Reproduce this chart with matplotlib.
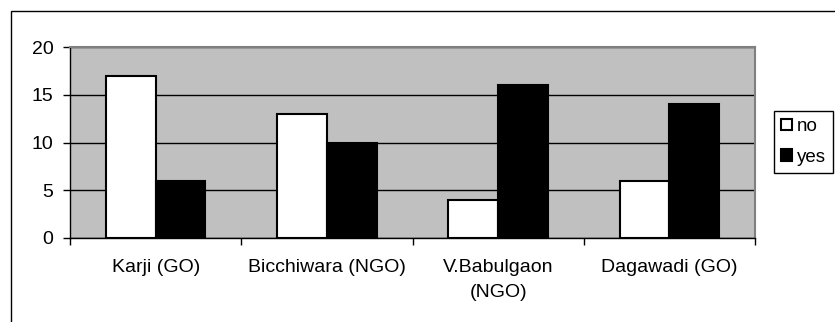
import matplotlib
matplotlib.use("Agg")
import matplotlib.pyplot as plt
import numpy as np
from matplotlib.patches import Rectangle, Patch

plt.rcParams['font.family'] = ['Liberation Sans', 'DejaVu Sans']

categories = ["Karji (GO)", "Bicchiwara (NGO)", "V.Babulgaon\n(NGO)", "Dagawadi (GO)"]
no_values = [17, 13, 4, 6]
yes_values = [6, 10, 16, 14]
series_names = ["no", "yes"]
y_ticks = [0, 5, 10, 15, 20]

W, H = 835, 322
FS = 14
fig = plt.figure(figsize=(W / 100, H / 100), dpi=100)
fig.patch.set_facecolor("white")

# outer chart frame (runs off the right and bottom edges)
fig.patches.append(Rectangle((11 / W, -0.05), 1.2, (1 - 11 / H) + 0.05,
                             transform=fig.transFigure, fill=False,
                             edgecolor="black", linewidth=1.0, zorder=0))

ax = fig.add_axes([70 / W, (H - 238) / H, (755 - 70) / W, (238 - 47) / H])
ax.set_facecolor("#C0C0C0")

x = np.arange(len(categories))
bw = 0.29
ax.bar(x - bw / 2, no_values, bw, color="white", edgecolor="black", linewidth=1.5, zorder=3)
ax.bar(x + bw / 2, yes_values, bw, color="black", edgecolor="black", linewidth=1.5, zorder=3)

ax.set_xlim(-0.5, len(categories) - 0.5)
ax.set_ylim(0, 20)
ax.set_yticks(y_ticks)
ax.yaxis.grid(True, color="black", linewidth=1.0, zorder=1)
ax.set_axisbelow(True)

# category labels centered, ticks on category boundaries
ax.set_xticks(x)
ax.set_xticklabels(categories, fontsize=FS)
for lbl in ax.get_xticklabels():
    lbl.set_linespacing(1.6)
ax.tick_params(axis="x", length=0, pad=15)
ax.set_xticks(np.arange(-0.5, len(categories) + 0.5, 1), minor=True)
ax.tick_params(axis="x", which="minor", length=5, width=1, color="black", direction="out")
ax.tick_params(axis="y", length=5, width=1, direction="out", labelsize=FS, pad=7)

for side in ("left", "bottom"):
    ax.spines[side].set_color("black")
    ax.spines[side].set_linewidth(1.0)
for side in ("top", "right"):
    ax.spines[side].set_color("#808080")
    ax.spines[side].set_linewidth(1.5)

handles = [Patch(facecolor="white", edgecolor="black", linewidth=1.5),
           Patch(facecolor="black", edgecolor="black", linewidth=1.5)]
leg = fig.legend(handles, series_names, loc="upper left",
                 bbox_to_anchor=(774 / W, 1 - 111 / H), borderaxespad=0,
                 fancybox=False, framealpha=1, edgecolor="black",
                 fontsize=13.5, handlelength=0.6, handleheight=0.6,
                 handletextpad=0.25, labelspacing=0.72, borderpad=0.38)
leg.get_frame().set_linewidth(1.0)

fig.savefig("out.png", dpi=100)
